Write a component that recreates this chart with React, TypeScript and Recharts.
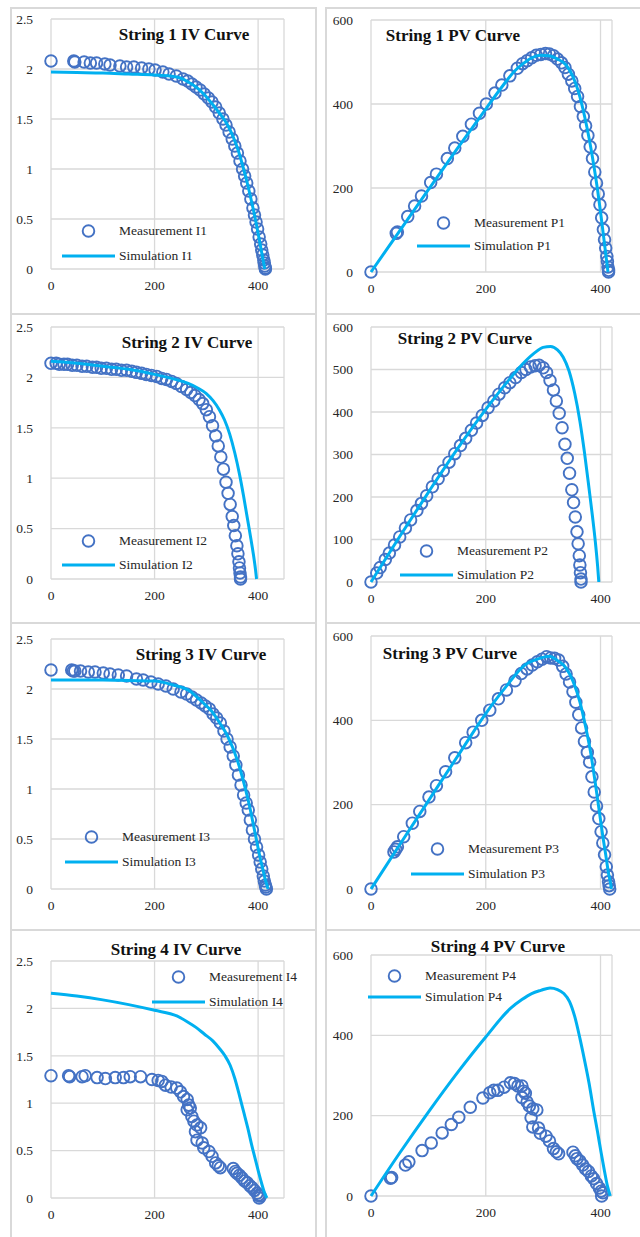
import React from 'react';
import { ScatterChart, Scatter, XAxis, YAxis, CartesianGrid, Legend } from 'recharts';

const FONT = "'Liberation Serif', 'Times New Roman', serif";
const MEAS_COLOR = '#4472C4';
const SIM_COLOR = '#00B0F0';
const GRID_COLOR = '#d9d9d9';
const TEXT_COLOR = '#262626';

// String 1
const measV1 = [0, 44, 46, 64, 76, 88, 104, 114, 133, 146, 160, 175, 189, 201, 216, 228, 242, 255, 264, 272, 280, 288, 296, 304, 311, 318, 325, 332, 338, 344, 350, 355, 360, 365, 370, 374, 378, 382, 386, 390, 393, 396, 399, 402, 405, 407, 409, 411, 412, 413, 414, 414];
const measI1 = [2.08, 2.08, 2.07, 2.07, 2.06, 2.06, 2.05, 2.04, 2.03, 2.02, 2.02, 2.01, 2.0, 1.99, 1.97, 1.95, 1.93, 1.9, 1.88, 1.85, 1.82, 1.79, 1.75, 1.71, 1.67, 1.62, 1.56, 1.5, 1.44, 1.37, 1.3, 1.23, 1.16, 1.08, 1.0, 0.93, 0.86, 0.78, 0.7, 0.61, 0.54, 0.47, 0.4, 0.32, 0.25, 0.19, 0.14, 0.09, 0.06, 0.03, 0.01, 0];
const measP1 = [0, 92, 95, 132, 157, 181, 213, 233, 270, 295, 323, 352, 378, 400, 426, 445, 467, 485, 496, 503, 510, 516, 518, 520, 519, 515, 507, 498, 487, 471, 455, 437, 418, 394, 370, 348, 325, 298, 270, 238, 212, 186, 160, 129, 101, 77, 57, 37, 25, 12, 4, 0];
const simV1 = [0, 50, 100, 150, 200, 230, 250, 265, 280, 295, 310, 325, 340, 352, 362, 372, 380, 388, 395, 401, 406, 410, 413];
const simI1 = [1.97, 1.965, 1.96, 1.95, 1.94, 1.93, 1.91, 1.87, 1.82, 1.75, 1.66, 1.56, 1.45, 1.32, 1.18, 1.0, 0.84, 0.66, 0.49, 0.33, 0.19, 0.08, 0];
const simP1 = [0, 98, 196, 293, 388, 444, 478, 496, 510, 516, 515, 507, 493, 465, 427, 372, 319, 256, 194, 132, 77, 33, 0];

// String 2
const measV2 = [0, 10, 16, 25, 32, 41, 50, 60, 69, 80, 88, 97, 107, 117, 126, 136, 146, 156, 165, 175, 184, 194, 204, 214, 223, 233, 242, 252, 262, 270, 278, 286, 293, 300, 306, 312, 318, 323, 328, 333, 338, 342, 346, 350, 353, 356, 359, 361, 363, 364, 365, 366, 366];
const measI2 = [2.14, 2.14, 2.13, 2.13, 2.13, 2.12, 2.12, 2.11, 2.11, 2.1, 2.1, 2.09, 2.09, 2.08, 2.08, 2.07, 2.07, 2.06, 2.05, 2.04, 2.03, 2.02, 2.01, 1.99, 1.98, 1.96, 1.94, 1.91, 1.88, 1.85, 1.82, 1.78, 1.74, 1.68, 1.61, 1.52, 1.42, 1.32, 1.21, 1.09, 0.96, 0.85, 0.74, 0.62, 0.53, 0.43, 0.33, 0.25, 0.17, 0.11, 0.06, 0.02, 0];
const measP2 = [0, 21, 34, 53, 68, 87, 106, 127, 146, 168, 185, 203, 224, 243, 262, 282, 302, 321, 338, 357, 374, 392, 410, 426, 442, 457, 469, 481, 493, 500, 506, 509, 510, 504, 493, 474, 452, 426, 397, 363, 324, 291, 256, 217, 187, 153, 118, 90, 62, 40, 22, 7, 0];
const simV2 = [0, 50, 100, 150, 200, 240, 265, 285, 300, 313, 325, 335, 345, 355, 364, 372, 380, 386, 391, 395, 397];
const simI2 = [2.16, 2.14, 2.11, 2.08, 2.03, 1.98, 1.94, 1.89, 1.84, 1.77, 1.68, 1.58, 1.44, 1.25, 1.04, 0.82, 0.58, 0.4, 0.24, 0.09, 0];
const simP2 = [0, 107, 211, 312, 406, 475, 514, 539, 552, 554, 546, 529, 497, 444, 379, 305, 220, 154, 94, 36, 0];

// String 3
const measV3 = [0, 40, 43, 46, 57, 72, 85, 101, 114, 130, 146, 165, 178, 193, 207, 222, 236, 251, 262, 272, 281, 290, 298, 306, 313, 320, 327, 334, 340, 346, 352, 357, 362, 367, 372, 377, 381, 385, 389, 393, 397, 401, 404, 407, 410, 412, 414, 415, 416];
const measI3 = [2.19, 2.19, 2.18, 2.18, 2.18, 2.17, 2.17, 2.16, 2.15, 2.14, 2.13, 2.1, 2.09, 2.07, 2.05, 2.03, 2.0, 1.97, 1.95, 1.92, 1.89, 1.86, 1.83, 1.8, 1.75, 1.71, 1.66, 1.58, 1.5, 1.42, 1.33, 1.24, 1.14, 1.04, 0.94, 0.86, 0.79, 0.69, 0.59, 0.5, 0.42, 0.34, 0.27, 0.2, 0.13, 0.08, 0.04, 0.02, 0];
const measP3 = [0, 88, 94, 100, 124, 156, 184, 218, 245, 278, 311, 347, 372, 400, 424, 451, 472, 494, 511, 522, 531, 539, 545, 551, 548, 547, 543, 528, 510, 491, 468, 443, 413, 382, 350, 324, 301, 266, 230, 197, 167, 136, 109, 81, 53, 33, 17, 8, 0];
const simV3 = [0, 50, 100, 150, 200, 236, 268, 290, 310, 326, 340, 352, 364, 374, 383, 391, 398, 404, 409, 414, 417, 419];
const simI3 = [2.09, 2.09, 2.09, 2.085, 2.08, 2.04, 1.98, 1.88, 1.78, 1.66, 1.54, 1.4, 1.22, 1.03, 0.84, 0.64, 0.46, 0.31, 0.2, 0.09, 0.04, 0];
const simP3 = [0, 105, 209, 313, 416, 481, 531, 545, 552, 541, 524, 493, 444, 385, 322, 250, 183, 125, 82, 37, 17, 0];

// String 4
const measV4 = [0, 34, 36, 60, 66, 89, 105, 124, 140, 153, 173, 195, 207, 214, 221, 232, 243, 250, 256, 263, 266, 269, 263, 272, 276, 282, 289, 279, 282, 292, 295, 305, 311, 318, 323, 327, 352, 356, 359, 364, 369, 374, 379, 384, 388, 393, 398, 401, 404, 402];
const measI4 = [1.29, 1.29, 1.28, 1.28, 1.29, 1.27, 1.26, 1.27, 1.27, 1.28, 1.28, 1.25, 1.24, 1.23, 1.19, 1.17, 1.16, 1.12, 1.07, 1.04, 0.98, 0.95, 0.93, 0.86, 0.81, 0.77, 0.74, 0.7, 0.61, 0.58, 0.53, 0.49, 0.44, 0.37, 0.34, 0.32, 0.31, 0.28, 0.26, 0.24, 0.21, 0.18, 0.16, 0.13, 0.11, 0.08, 0.05, 0.03, 0.02, 0];
const measP4 = [0, 44, 46, 77, 85, 113, 132, 157, 178, 196, 221, 244, 257, 263, 263, 271, 282, 280, 274, 274, 261, 256, 245, 234, 224, 217, 214, 195, 172, 169, 156, 149, 137, 118, 110, 105, 109, 100, 93, 87, 77, 67, 61, 50, 43, 31, 20, 12, 8, 0];
const simV4 = [0, 50, 100, 150, 200, 243, 263, 280, 296, 312, 325, 336, 346, 355, 364, 372, 380, 388, 395, 401, 407, 412, 417];
const simI4 = [2.16, 2.13, 2.09, 2.04, 1.98, 1.92, 1.86, 1.8, 1.73, 1.66, 1.58, 1.5, 1.4, 1.26, 1.08, 0.91, 0.74, 0.55, 0.4, 0.27, 0.15, 0.06, 0];
const simP4 = [0, 107, 209, 306, 396, 467, 489, 504, 512, 518, 514, 504, 484, 447, 393, 339, 281, 213, 158, 108, 61, 25, 0];

const vTicks = [0, 200, 400];
const iTicks = [0, 0.5, 1, 1.5, 2, 2.5];
const pTicks = [0, 200, 400, 600];
const pTicksFine = [0, 100, 200, 300, 400, 500, 600];

const toPoints = (xs: number[], ys: number[]) => xs.map((x, k) => ({ x, y: ys[k] }));

interface PanelProps {
  title: string;
  measName: string;
  simName: string;
  meas: { x: number; y: number }[];
  sim: { x: number; y: number }[];
  yTicks: number[];
  yMax: number;
  xMax: number;
  left: number;
  top: number;
  width: number;
  height: number;
  mt: number;
  mr: number;
  yw: number;
  titleX: number;
  titleY: number;
  legX: number;
  legY: number;
  legGap: number;
}

const RingDot = (props: any) => (
  <circle cx={props.cx} cy={props.cy} r={5.8} fill="none" stroke={MEAS_COLOR} strokeWidth={1.9} />
);

// serif tick labels, drawn by hand so the font is not overridden
const XTick = (props: any) => (
  <text x={props.x} y={props.y} dy="0.71em" textAnchor="middle" fontFamily={FONT} fontSize={13.5} fill={TEXT_COLOR}>
    {props.payload.value}
  </text>
);

const YTick = (props: any) => (
  <text x={props.x} y={props.y} dy="0.35em" textAnchor="end" fontFamily={FONT} fontSize={13.5} fill={TEXT_COLOR}>
    {props.payload.value}
  </text>
);

const CurvePanel: React.FC<PanelProps> = (p) => {
  const renderLegend = (props: any) => {
    const payload = props.payload || [];
    return (
      <div style={{ fontFamily: FONT, fontSize: 13.5, color: TEXT_COLOR }}>
        {payload.map((entry: any) => (
          <div key={entry.value} style={{ display: 'flex', alignItems: 'center', height: p.legGap }}>
            <svg width={53} height={16} style={{ marginRight: 4, flex: 'none' }}>
              {entry.type === 'line' ? (
                <line x1={0} y1={8} x2={53} y2={8} stroke={SIM_COLOR} strokeWidth={3} />
              ) : (
                <circle cx={26.5} cy={8} r={5.8} fill="none" stroke={MEAS_COLOR} strokeWidth={1.9} />
              )}
            </svg>
            <span style={{ whiteSpace: 'nowrap' }}>{entry.value}</span>
          </div>
        ))}
      </div>
    );
  };

  return (
    <div style={{ position: 'absolute', left: p.left, top: p.top, width: p.width, height: p.height, fontFamily: FONT }}>
      <ScatterChart width={p.width} height={p.height} margin={{ top: p.mt, right: p.mr, bottom: 0, left: 0 }}>
        <CartesianGrid stroke={GRID_COLOR} strokeWidth={1.3} />
        <XAxis
          type="number"
          dataKey="x"
          domain={[0, p.xMax]}
          ticks={vTicks}
          axisLine={false}
          tickLine={false}
          tickSize={0}
          tickMargin={11}
          height={30}
          tick={<XTick />}
        />
        <YAxis
          type="number"
          dataKey="y"
          domain={[0, p.yMax]}
          ticks={p.yTicks}
          axisLine={false}
          tickLine={false}
          tickSize={0}
          tickMargin={18}
          width={p.yw}
          tick={<YTick />}
        />
        <Legend
          layout="vertical"
          align="center"
          verticalAlign="middle"
          content={renderLegend}
          wrapperStyle={{ left: p.legX - p.left, top: p.legY - p.legGap / 2 - p.top, width: 'auto', height: 'auto' }}
        />
        <Scatter name={p.measName} data={p.meas} legendType="circle" shape={RingDot} isAnimationActive={false} />
        <Scatter
          name={p.simName}
          data={p.sim}
          legendType="line"
          line={{ stroke: SIM_COLOR, strokeWidth: 3 }}
          lineJointType="monotoneX"
          shape={() => <g />}
          isAnimationActive={false}
        />
      </ScatterChart>
      <div
        style={{
          position: 'absolute',
          left: p.titleX - p.left - 120,
          top: p.titleY - p.top - 11,
          width: 240,
          lineHeight: '22px',
          textAlign: 'center',
          fontFamily: FONT,
          fontWeight: 'bold',
          fontSize: 17,
          color: '#111',
          whiteSpace: 'nowrap',
        }}
      >
        {p.title}
      </div>
    </div>
  );
};

const LEFT = { left: 13, width: 300, mr: 29, yw: 38, xMax: 450 };
const RIGHT = { left: 328, width: 312, mr: 28, yw: 43, xMax: 420 };

const panels: PanelProps[] = [
  { ...LEFT, title: 'String 1 IV Curve', measName: 'Measurement I1', simName: 'Simulation I1', meas: toPoints(measV1, measI1), sim: toPoints(simV1, simI1), yTicks: iTicks, yMax: 2.5, top: 9, height: 290, mt: 10, titleX: 184, titleY: 35, legX: 62, legY: 231, legGap: 25 },
  { ...RIGHT, title: 'String 1 PV Curve', measName: 'Measurement P1', simName: 'Simulation P1', meas: toPoints(measV1, measP1), sim: toPoints(simV1, simP1), yTicks: pTicks, yMax: 600, top: 9, height: 293, mt: 11, titleX: 453, titleY: 36, legX: 417, legY: 222.5, legGap: 23 },
  { ...LEFT, title: 'String 2 IV Curve', measName: 'Measurement I2', simName: 'Simulation I2', meas: toPoints(measV2, measI2), sim: toPoints(simV2, simI2), yTicks: iTicks, yMax: 2.5, top: 316, height: 293, mt: 11, titleX: 187, titleY: 343, legX: 62, legY: 540.5, legGap: 24 },
  { ...RIGHT, title: 'String 2 PV Curve', measName: 'Measurement P2', simName: 'Simulation P2', meas: toPoints(measV2, measP2), sim: toPoints(simV2, simP2), yTicks: pTicksFine, yMax: 600, top: 316, height: 296, mt: 11, titleX: 465, titleY: 339, legX: 400, legY: 550.5, legGap: 24 },
  { ...LEFT, title: 'String 3 IV Curve', measName: 'Measurement I3', simName: 'Simulation I3', meas: toPoints(measV3, measI3), sim: toPoints(simV3, simI3), yTicks: iTicks, yMax: 2.5, top: 625, height: 294, mt: 14, titleX: 201, titleY: 655, legX: 65, legY: 837, legGap: 24.5 },
  { ...RIGHT, title: 'String 3 PV Curve', measName: 'Measurement P3', simName: 'Simulation P3', meas: toPoints(measV3, measP3), sim: toPoints(simV3, simP3), yTicks: pTicks, yMax: 600, top: 625, height: 294, mt: 11, titleX: 450, titleY: 654, legX: 411, legY: 849, legGap: 25 },
  { ...LEFT, title: 'String 4 IV Curve', measName: 'Measurement I4', simName: 'Simulation I4', meas: toPoints(measV4, measI4), sim: toPoints(simV4, simI4), yTicks: iTicks, yMax: 2.5, top: 932, height: 296, mt: 29, titleX: 176, titleY: 950, legX: 152, legY: 976.5, legGap: 25 },
  { ...RIGHT, title: 'String 4 PV Curve', measName: 'Measurement P4', simName: 'Simulation P4', meas: toPoints(measV4, measP4), sim: toPoints(simV4, simP4), yTicks: pTicks, yMax: 600, top: 932, height: 294, mt: 23, titleX: 498, titleY: 947, legX: 368, legY: 975.5, legGap: 21 },
];

// table cell borders
const vLines = [10, 315, 325];
const hLines = [7, 313, 622, 929];

export default function App() {
  return (
    <div style={{ position: 'absolute', left: 0, top: 0, width: 640, height: 1237, background: '#fff', overflow: 'hidden' }}>
      {vLines.map((x) => (
        <div key={'v' + x} style={{ position: 'absolute', left: x, top: 7, width: 2, height: 1240, background: GRID_COLOR }} />
      ))}
      {hLines.map((y) => (
        <React.Fragment key={'h' + y}>
          <div style={{ position: 'absolute', left: 10, top: y, width: 307, height: 2, background: GRID_COLOR }} />
          <div style={{ position: 'absolute', left: 325, top: y, width: 320, height: 2, background: GRID_COLOR }} />
        </React.Fragment>
      ))}
      {panels.map((p) => (
        <CurvePanel key={p.title} {...p} />
      ))}
    </div>
  );
}
